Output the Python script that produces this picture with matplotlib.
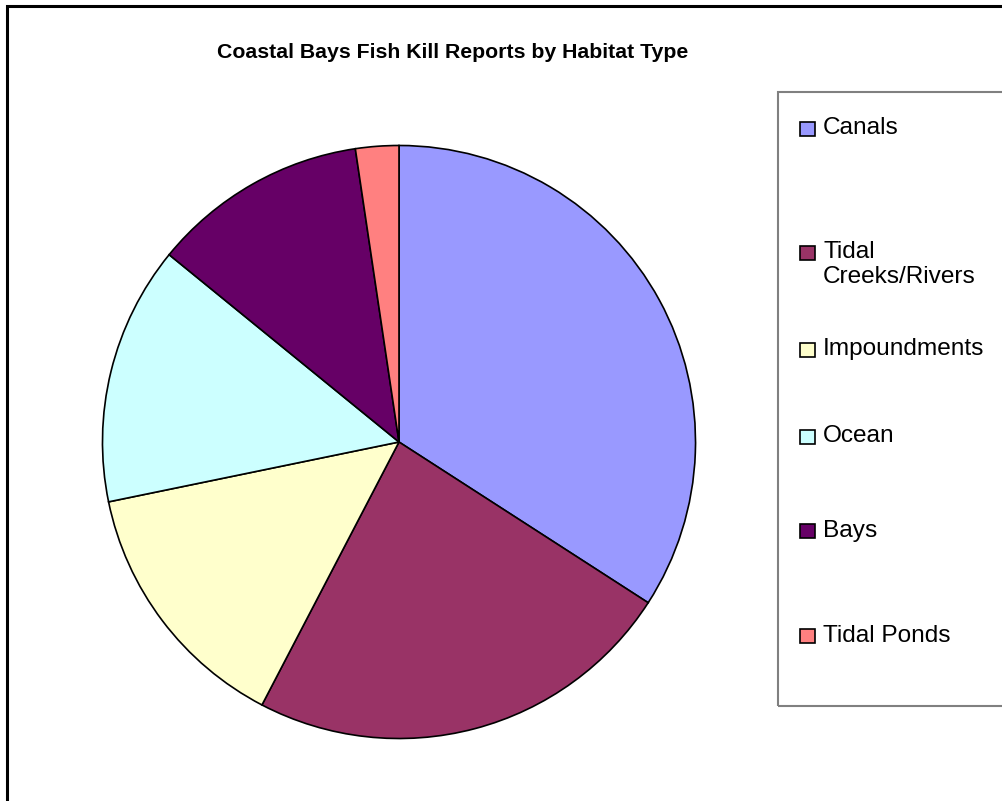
import matplotlib
matplotlib.use("Agg")
import matplotlib.pyplot as plt
from matplotlib.patches import Rectangle

categories = ["Canals", "Tidal Creeks/Rivers", "Impoundments", "Ocean", "Bays", "Tidal Ponds"]
legend_labels = ["Canals", "Tidal\nCreeks/Rivers", "Impoundments", "Ocean", "Bays", "Tidal Ponds"]
reports = [29, 20, 12, 12, 10, 2]
colors = ["#9999FF", "#993366", "#FFFFCC", "#CCFFFF", "#660066", "#FF8080"]
title = "Coastal Bays Fish Kill Reports by Habitat Type"

W, H = 1002, 801
fig = plt.figure(figsize=(W / 100, H / 100), dpi=100)
plt.rcParams['font.family'] = ['Liberation Sans', 'DejaVu Sans']

def fx(px):
    return px / W

def fy(py):
    return 1 - py / H

# outer chart border (extends beyond image on right/bottom)
fig.patches.append(Rectangle((fx(7), fy(820)), fx(1030) - fx(7), fy(6) - fy(820),
                             transform=fig.transFigure, fill=False,
                             edgecolor="black", linewidth=2.2))

# pie axes
cx, cy, r = 399, 442, 298
ax = fig.add_axes([fx(cx - r), fy(cy + r), 2 * r / W, 2 * r / H])
ax.pie(reports, colors=colors, startangle=90, counterclock=False, radius=1,
       wedgeprops=dict(edgecolor="black", linewidth=1.2))
ax.set_xlim(-1.005, 1.005)
ax.set_ylim(-1.005, 1.005)
ax.set_aspect("equal")
ax.axis("off")

fig.text(fx(453), fy(52), title, ha="center", va="center",
         fontsize=15.3, fontweight="bold")

# legend box
fig.patches.append(Rectangle((fx(778), fy(706)), fx(1030) - fx(778), fy(92) - fy(706),
                             transform=fig.transFigure, fill=False,
                             edgecolor="#808080", linewidth=1.5))

entry_y = [129, 253, 350, 437, 531, 636]
for lab, col, yy in zip(legend_labels, colors, entry_y):
    fig.patches.append(Rectangle((fx(800), fy(yy + 7)), 15 / W, 14 / H,
                                 transform=fig.transFigure, facecolor=col,
                                 edgecolor="black", linewidth=1.2))
    fig.text(fx(823), fy(yy - 11.5), lab, ha="left", va="top", fontsize=17.6,
             linespacing=1.12)

fig.savefig("out.png", dpi=100)
